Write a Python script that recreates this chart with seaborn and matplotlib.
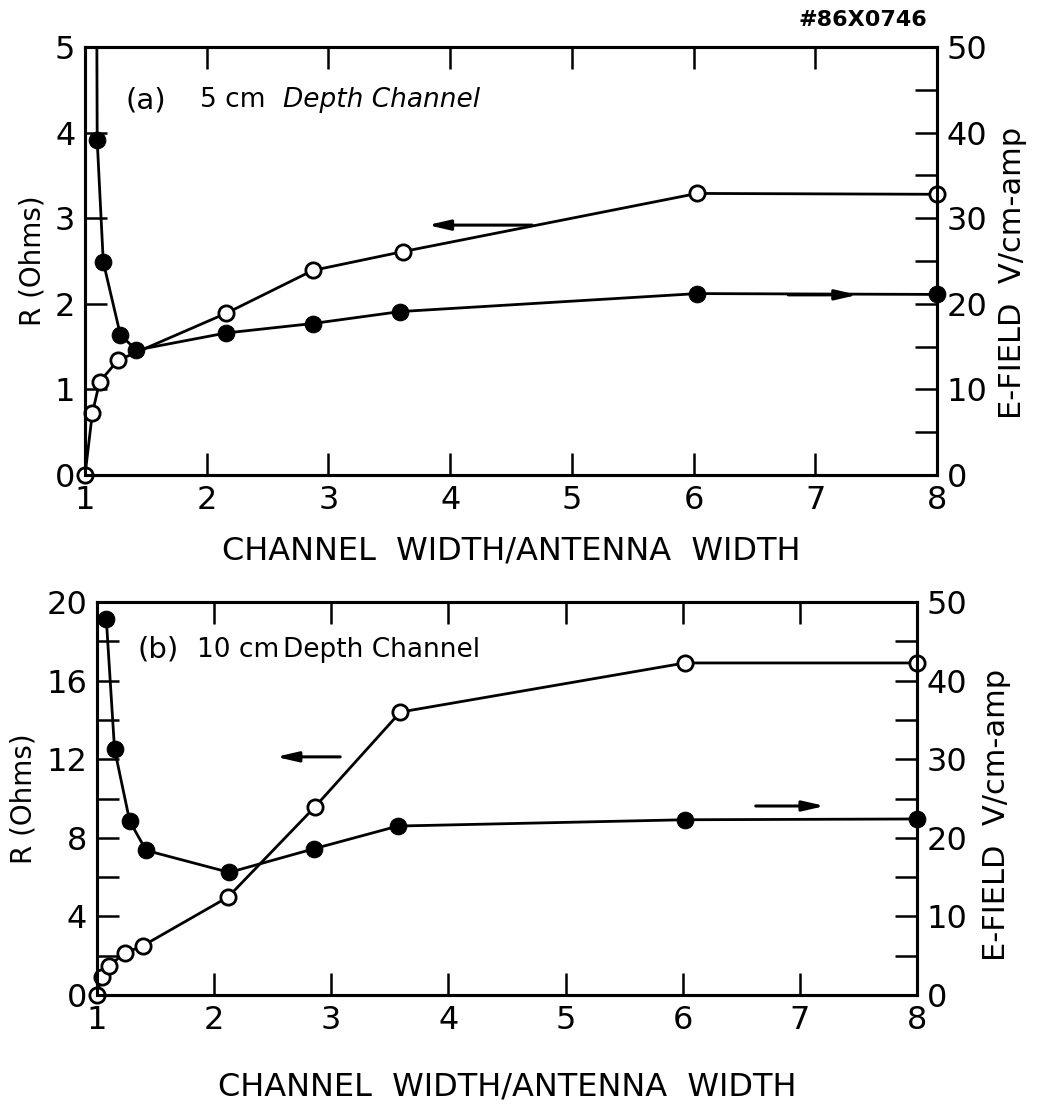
import matplotlib
matplotlib.use('Agg')
import matplotlib.pyplot as plt
import seaborn as sns
from matplotlib.ticker import MultipleLocator
from matplotlib.transforms import Bbox, TransformedBbox

# --- dados ---
# painel (a): canal de 5 cm
xa_r = [1.0, 1.06, 1.12, 1.27, 2.16, 2.87, 3.61, 6.03, 8.0]
ra = [0.0, 0.72, 1.09, 1.34, 1.89, 2.39, 2.61, 3.29, 3.28]
xa_e = [1.09, 1.10, 1.15, 1.29, 1.42, 2.16, 2.87, 3.59, 6.03, 8.0]
ea = [80.0, 39.1, 24.9, 16.4, 14.6, 16.6, 17.7, 19.1, 21.2, 21.1]

# painel (b): canal de 10 cm
xb_r = [1.0, 1.04, 1.10, 1.24, 1.39, 2.12, 2.86, 3.59, 6.02, 8.0]
rb = [0.0, 0.92, 1.48, 2.14, 2.5, 4.99, 9.57, 14.4, 16.9, 16.9]
xb_e = [1.08, 1.15, 1.28, 1.42, 2.13, 2.85, 3.57, 6.02, 8.0]
eb = [47.8, 31.3, 22.1, 18.4, 15.6, 18.6, 21.5, 22.3, 22.4]

x_ticks = [1, 2, 3, 4, 5, 6, 7, 8]

sns.set_style('white')
plt.rcParams['font.family'] = ['DejaVu Sans']
plt.rcParams['text.color'] = 'black'
plt.rcParams['axes.labelcolor'] = 'black'
plt.rcParams['xtick.color'] = 'black'
plt.rcParams['ytick.color'] = 'black'

fig = plt.figure(figsize=(10.47, 11.18), dpi=100)
ax_a = fig.add_axes([0.0812, 0.5751, 0.8138, 0.3828])
ax_b = fig.add_axes([0.0926, 0.1100, 0.7832, 0.3515])

lw = 2.0
tick_kw = dict(direction='in', length=16, width=1.8, labelsize=23, pad=7)


def painel(ax, xr, r, xe, e, rmax, rmajor, rminor, xpad, elabel_pos):
    ax2 = ax.twinx()
    sns.lineplot(x=xr, y=r, ax=ax, color='black', linewidth=lw, marker='o',
                 markersize=11, markerfacecolor='white', markeredgecolor='black',
                 markeredgewidth=2.0, clip_on=False, zorder=5)
    sns.lineplot(x=xe, y=e, ax=ax2, color='black', linewidth=lw, marker='o',
                 markersize=12, markerfacecolor='black', markeredgecolor='black',
                 clip_on=True, zorder=5)
    # recorta só em cima (a curva sai do gráfico), deixa os marcadores da borda
    linha = ax2.lines[-1]
    linha.set_clip_box(TransformedBbox(Bbox([[-0.05, -0.05], [1.05, 1.0]]), ax2.transAxes))

    ax.set_xlim(1, 8)
    ax.set_ylim(0, rmax)
    ax2.set_ylim(0, 50)
    ax.set_xticks(x_ticks)
    ax.yaxis.set_major_locator(MultipleLocator(rmajor))
    ax.yaxis.set_minor_locator(MultipleLocator(rminor))
    ax2.yaxis.set_major_locator(MultipleLocator(10))
    ax2.yaxis.set_minor_locator(MultipleLocator(5))

    ax.tick_params(axis='x', which='both', top=True, bottom=True, **tick_kw)
    ax.tick_params(axis='y', which='both', left=True, right=False, **tick_kw)
    ax2.tick_params(axis='y', which='both', right=True, left=False, **tick_kw)

    for a in (ax, ax2):
        for s in a.spines.values():
            s.set_linewidth(2.2)
            s.set_color('black')

    ax.set_xlabel('CHANNEL  WIDTH/ANTENNA  WIDTH', fontsize=23, labelpad=xpad)
    ax.set_ylabel('R (Ohms)', fontsize=20, labelpad=6)
    ax2.set_ylabel('E-FIELD  V/cm-amp', fontsize=22)
    ax2.yaxis.set_label_coords(*elabel_pos)
    ax.set_facecolor('white')
    return ax2


ax2_a = painel(ax_a, xa_r, ra, xa_e, ea, 5, 1, 1, 14, (1.072, 0.472))
ax2_b = painel(ax_b, xb_r, rb, xb_e, eb, 20, 4, 2, 26, (1.079, 0.458))

# textos dos painéis
fs = 19
ax_a.text(0.047, 0.876, '(a)', transform=ax_a.transAxes, fontsize=21, va='center')
ax_a.text(0.135, 0.876, '5 cm', transform=ax_a.transAxes, fontsize=fs, va='center')
ax_a.text(0.232, 0.876, 'Depth Channel', transform=ax_a.transAxes, fontsize=fs,
          va='center', style='italic')
ax_b.text(0.050, 0.878, '(b)', transform=ax_b.transAxes, fontsize=21, va='center')
ax_b.text(0.122, 0.878, '10 cm', transform=ax_b.transAxes, fontsize=fs, va='center')
ax_b.text(0.227, 0.878, 'Depth Channel', transform=ax_b.transAxes, fontsize=fs,
          va='center')

# setas indicando o eixo de cada curva
seta = dict(arrowstyle='-|>,head_length=1.3,head_width=0.3', color='black', lw=2.2)
ax_a.annotate('', xy=(0.399, 0.584), xytext=(0.528, 0.584), xycoords='axes fraction',
              arrowprops=seta)
ax_a.annotate('', xy=(0.910, 0.421), xytext=(0.822, 0.421), xycoords='axes fraction',
              arrowprops=seta)
ax_b.annotate('', xy=(0.215, 0.606), xytext=(0.300, 0.606), xycoords='axes fraction',
              arrowprops=seta)
ax_b.annotate('', xy=(0.891, 0.481), xytext=(0.800, 0.481), xycoords='axes fraction',
              arrowprops=seta)

fig.text(0.886, 0.982, '#86X0746', fontsize=16, fontweight='bold', ha='right', va='center')

fig.savefig('out.png', dpi=100, facecolor='white')
